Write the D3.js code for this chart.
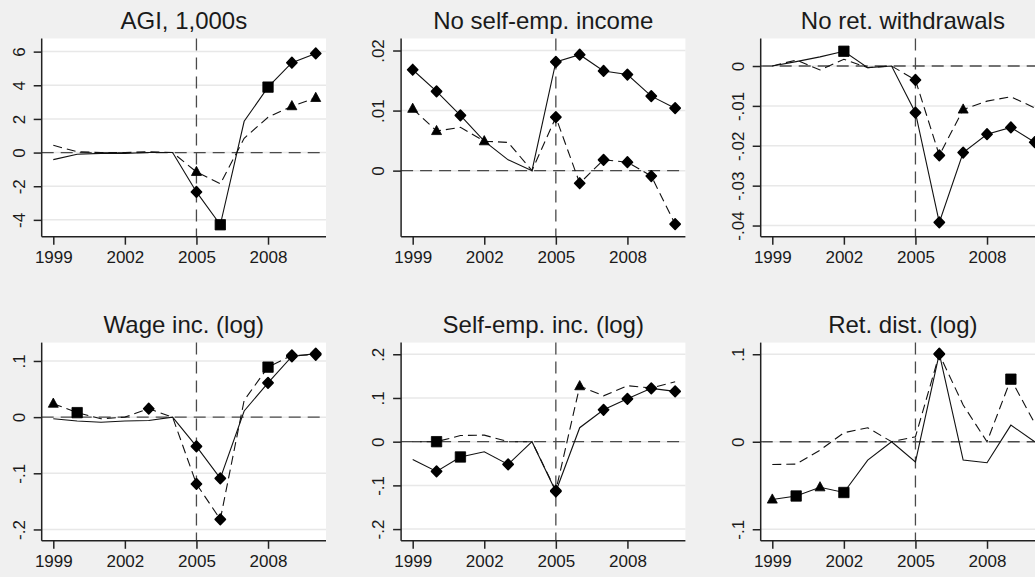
<!DOCTYPE html>
<html>
<head>
<meta charset="utf-8">
<script src="https://cdn.jsdelivr.net/npm/d3@7/dist/d3.min.js"></script>
<style>
  html, body { margin: 0; padding: 0; background: #f0f0f0; }
  svg { display: block; }
  text { font-family: "Liberation Sans", Arial, sans-serif; fill: #1a1a1a; }
</style>
</head>
<body>
<svg id="chart" width="1035" height="577"></svg>
<script>
// ---------- DATA ----------
const years = [1999, 2000, 2001, 2002, 2003, 2004, 2005, 2006, 2007, 2008, 2009, 2010];
const xTicks = [1999, 2002, 2005, 2008];
const eventYear = 2005;

const titles = ["AGI, 1,000s", "No self-emp. income", "No ret. withdrawals",
                "Wage inc. (log)", "Self-emp. inc. (log)", "Ret. dist. (log)"];

// Marker codes: D = diamond, T = triangle, S = square, "" = none
// Panel 1: AGI, 1,000s
const agiSolid   = [-0.42, -0.10, -0.05, -0.05, 0.00, 0.00, -2.34, -4.29, 1.86, 3.89, 5.34, 5.89];
const agiSolidMk = ["", "", "", "", "", "", "D", "S", "", "S", "D", "D"];
const agiDash    = [0.43, 0.05, 0.00, 0.00, 0.05, 0.00, -1.15, -1.86, 0.85, 2.10, 2.76, 3.25];
const agiDashMk  = ["", "", "", "", "", "", "T", "", "", "", "T", "T"];
const agiTicks   = [-4, -2, 0, 2, 4, 6];
const agiTickLab = ["-4", "-2", "0", "2", "4", "6"];

// Panel 2: No self-emp. income
const nseSolid   = [0.0168, 0.0132, 0.0092, 0.0049, 0.0018, 0.0, 0.0181, 0.0193, 0.0166, 0.0160, 0.0124, 0.0104];
const nseSolidMk = ["D", "D", "D", "", "", "", "D", "D", "D", "D", "D", "D"];
const nseDash    = [0.0103, 0.0066, 0.0072, 0.0049, 0.0047, 0.0, 0.0089, -0.0021, 0.0018, 0.0014, -0.0009, -0.0089];
const nseDashMk  = ["T", "T", "", "T", "", "", "D", "D", "D", "D", "D", "D"];
const nseTicks   = [0, 0.01, 0.02];
const nseTickLab = ["0", ".01", ".02"];

// Panel 3: No ret. withdrawals
const nrwSolid   = [0.0, 0.0011, 0.0023, 0.0037, -0.0004, 0.0, -0.0117, -0.0392, -0.0217, -0.0171, -0.0154, -0.0191];
const nrwSolidMk = ["", "", "", "S", "", "", "D", "D", "D", "D", "D", "D"];
const nrwDash    = [0.0, 0.0015, -0.0010, 0.0017, -0.0004, 0.0, -0.0035, -0.0224, -0.0109, -0.0088, -0.0077, -0.0105];
const nrwDashMk  = ["", "", "", "", "", "", "D", "D", "T", "", "", ""];
const nrwTicks   = [-0.04, -0.03, -0.02, -0.01, 0];
const nrwTickLab = ["-.04", "-.03", "-.02", "-.01", "0"];

// Panel 4: Wage inc. (log)
const wageSolid   = [-0.003, -0.007, -0.009, -0.007, -0.006, 0.0, -0.052, -0.109, 0.011, 0.061, 0.108, 0.113];
const wageSolidMk = ["", "", "", "", "", "", "D", "D", "", "D", "D", "D"];
const wageDash    = [0.024, 0.008, -0.003, 0.0, 0.015, 0.0, -0.119, -0.182, 0.030, 0.089, 0.110, 0.111];
const wageDashMk  = ["T", "S", "", "", "D", "", "D", "D", "", "S", "D", "D"];
const wageTicks   = [-0.2, -0.1, 0, 0.1];
const wageTickLab = ["-.2", "-.1", "0", ".1"];

// Panel 5: Self-emp. inc. (log)
const seiSolid   = [-0.041, -0.068, -0.035, -0.023, -0.052, 0.0, -0.114, 0.032, 0.073, 0.098, 0.122, 0.115];
const seiSolidMk = ["", "D", "S", "", "D", "", "D", "", "D", "D", "D", "D"];
const seiDash    = [0.0, 0.0, 0.014, 0.015, 0.0, 0.0, -0.112, 0.127, 0.105, 0.128, 0.123, 0.137];
const seiDashMk  = ["", "S", "", "", "", "", "D", "T", "", "", "", ""];
const seiTicks   = [-0.2, -0.1, 0, 0.1, 0.2];
const seiTickLab = ["-.2", "-.1", "0", ".1", ".2"];

// Panel 6: Ret. dist. (log)
const rdSolid   = [-0.066, -0.062, -0.052, -0.058, -0.021, 0.0, -0.023, 0.1006, -0.021, -0.024, 0.019, 0.0];
const rdSolidMk = ["T", "S", "T", "S", "", "", "", "D", "", "", "", ""];
const rdDash    = [-0.026, -0.0256, -0.0096, 0.0103, 0.016, 0.0, 0.0057, 0.1, 0.042, 0.0, 0.0715, 0.021];
const rdDashMk  = ["", "", "", "", "", "", "", "D", "", "", "S", ""];
const rdTicks   = [-0.1, 0, 0.1];
const rdTickLab = ["-.1", "0", ".1"];

// ---------- LAYOUT ----------
const panels = [
  {title: titles[0], solid: agiSolid, solidMk: agiSolidMk, dash: agiDash, dashMk: agiDashMk, ticks: agiTicks, labs: agiTickLab, dom: [-5.0, 6.78]},
  {title: titles[1], solid: nseSolid, solidMk: nseSolidMk, dash: nseDash, dashMk: nseDashMk, ticks: nseTicks, labs: nseTickLab, dom: [-0.011, 0.0220]},
  {title: titles[2], solid: nrwSolid, solidMk: nrwSolidMk, dash: nrwDash, dashMk: nrwDashMk, ticks: nrwTicks, labs: nrwTickLab, dom: [-0.0428, 0.0069]},
  {title: titles[3], solid: wageSolid, solidMk: wageSolidMk, dash: wageDash, dashMk: wageDashMk, ticks: wageTicks, labs: wageTickLab, dom: [-0.2202, 0.1327]},
  {title: titles[4], solid: seiSolid, solidMk: seiSolidMk, dash: seiDash, dashMk: seiDashMk, ticks: seiTicks, labs: seiTickLab, dom: [-0.2268, 0.2267]},
  {title: titles[5], solid: rdSolid, solidMk: rdSolidMk, dash: rdDash, dashMk: rdDashMk, ticks: rdTicks, labs: rdTickLab, dom: [-0.1132, 0.1133]}
];

const colX = [41.7, 401.1, 760.7];
const rowY = [38.5, 342.6];
const plotW = 284.3;
const plotH = 198.2;

const svg = d3.select("#chart");

const markerPath = {
  D: "M0,-5.3L5.1,0L0,5.3L-5.1,0Z",
  S: "M-5.2,-5.2H5.2V5.2H-5.2Z",
  T: "M0,-5.6L5,3.6L-5,3.6Z"
};

panels.forEach((p, i) => {
  const ox = colX[i % 3], oy = rowY[Math.floor(i / 3)];
  const g = svg.append("g").attr("transform", `translate(${ox},${oy})`);

  const x = d3.scaleLinear().domain([1998.514, 2010.43]).range([0, plotW]);
  const y = d3.scaleLinear().domain(p.dom).range([plotH, 0]);

  // plot region
  g.append("rect").attr("x", 0).attr("y", 0).attr("width", plotW).attr("height", plotH).attr("fill", "#ffffff");

  // gridlines
  g.selectAll(".grid").data(p.ticks).enter().append("line")
    .attr("x1", 0).attr("x2", plotW)
    .attr("y1", d => y(d)).attr("y2", d => y(d))
    .attr("stroke", "#e8e8e8").attr("stroke-width", 1.5);

  // reference lines
  g.append("line").attr("x1", 0).attr("x2", plotW).attr("y1", y(0)).attr("y2", y(0))
    .attr("stroke", "#4a4a4a").attr("stroke-width", 1.3).attr("stroke-dasharray", "12,7");
  g.append("line").attr("x1", x(eventYear)).attr("x2", x(eventYear)).attr("y1", 0).attr("y2", plotH)
    .attr("stroke", "#4a4a4a").attr("stroke-width", 1.3).attr("stroke-dasharray", "12,7");

  const line = d3.line().x((d, j) => x(years[j])).y(d => y(d));

  g.append("path").datum(p.dash).attr("d", line)
    .attr("fill", "none").attr("stroke", "#111").attr("stroke-width", 1.1).attr("stroke-dasharray", "9,5");
  g.append("path").datum(p.solid).attr("d", line)
    .attr("fill", "none").attr("stroke", "#111").attr("stroke-width", 1.1);

  const drawMarkers = (vals, mks) => {
    g.selectAll(null).data(vals.map((v, j) => ({v, j, m: mks[j]})).filter(d => d.m))
      .enter().append("path")
      .attr("transform", d => `translate(${x(years[d.j])},${y(d.v)})`)
      .attr("d", d => markerPath[d.m])
      .attr("fill", "#000").attr("stroke", "#000")
      .attr("stroke-width", d => d.m === "D" ? 1.6 : 0.8)
      .attr("stroke-linejoin", "round");
  };
  drawMarkers(p.dash, p.dashMk);
  drawMarkers(p.solid, p.solidMk);

  // axes
  const yAxis = d3.axisLeft(y).tickValues(p.ticks).tickFormat((d, k) => p.labs[k]).tickSize(8).tickPadding(4);
  const ya = g.append("g").call(yAxis);
  ya.select(".domain").attr("stroke", "#222").attr("stroke-width", 1.5).attr("d", `M0,0V${plotH}`);
  ya.selectAll(".tick line").attr("stroke", "#222").attr("stroke-width", 1.5);
  ya.selectAll(".tick text")
    .attr("x", null).attr("dy", null)
    .attr("text-anchor", "middle")
    .attr("transform", "translate(-17,0) rotate(-90)")
    .style("font-size", "17px").style("font-family", "'Liberation Sans', Arial, sans-serif").attr("fill", "#1a1a1a");

  const xAxis = d3.axisBottom(x).tickValues(xTicks).tickFormat(d3.format("d")).tickSize(8).tickPadding(6);
  const xa = g.append("g").attr("transform", `translate(0,${plotH})`).call(xAxis);
  xa.select(".domain").attr("stroke", "#222").attr("stroke-width", 1.5).attr("d", `M0,0H${plotW}`);
  xa.selectAll(".tick line").attr("stroke", "#222").attr("stroke-width", 1.5);
  xa.selectAll(".tick text")
    .attr("dy", null).attr("y", 26)
    .style("font-size", "17px").style("font-family", "'Liberation Sans', Arial, sans-serif").attr("fill", "#1a1a1a");

  // title
  g.append("text").attr("x", plotW / 2).attr("y", -9.5).attr("text-anchor", "middle")
    .style("font-size", "24px").text(p.title);
});
</script>
</body>
</html>
